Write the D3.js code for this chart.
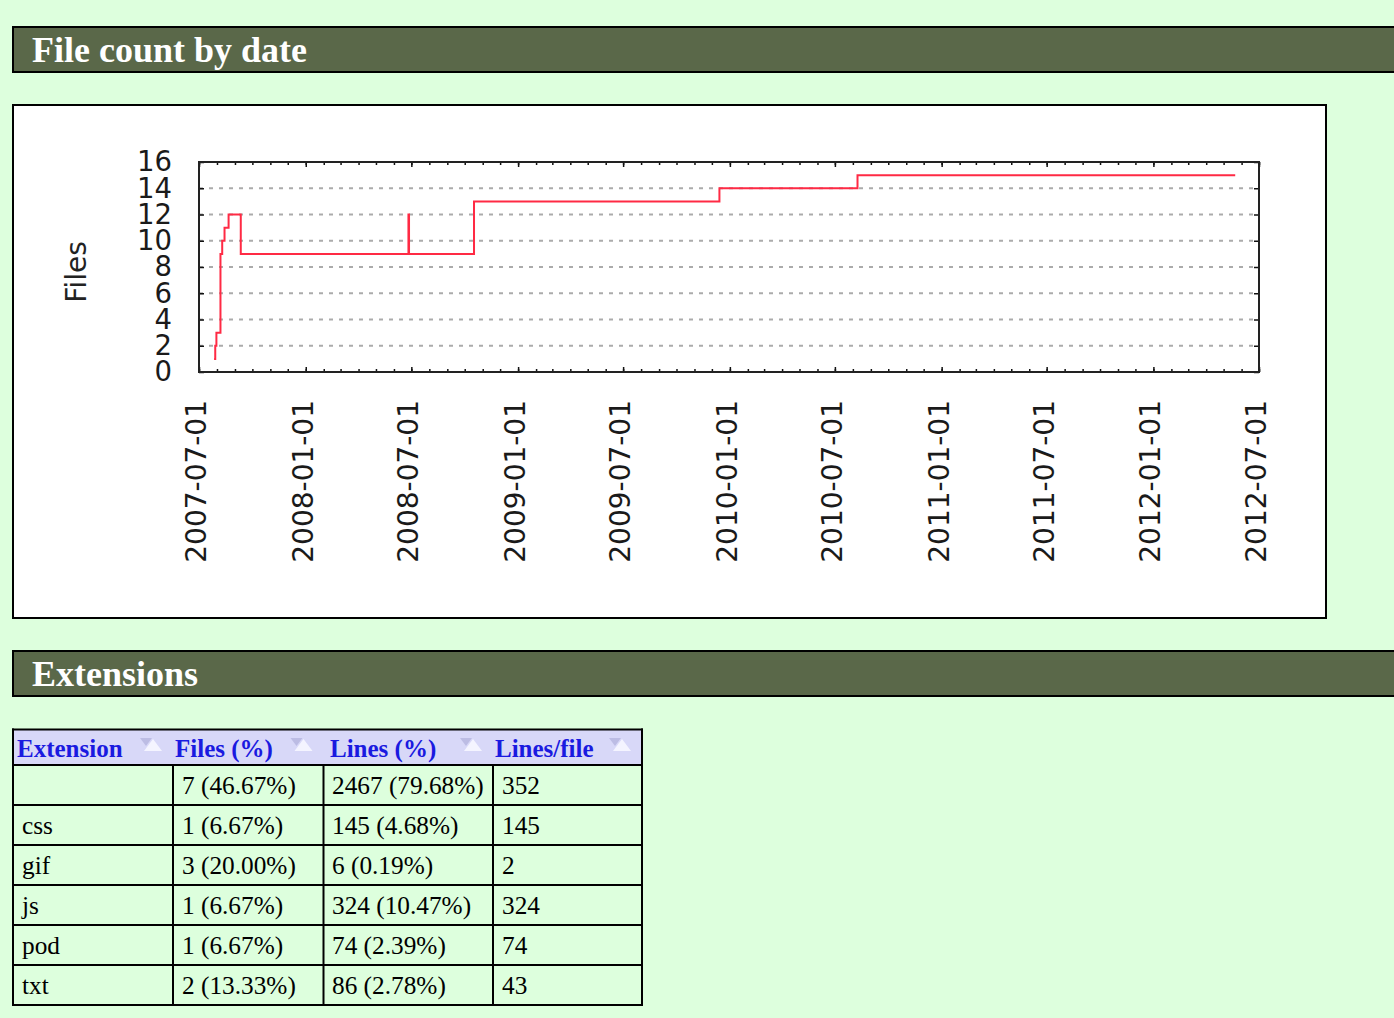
<!DOCTYPE html>
<html>
<head>
<meta charset="utf-8">
<script src="https://cdn.jsdelivr.net/npm/d3@7"></script>
<style>
  html, body { margin: 0; padding: 0; background: #ddffdd; overflow: hidden; }
  svg { display: block; }
</style>
</head>
<body>
<svg id="page" width="1394" height="1018"></svg>
<script>
// ---------- data ----------
const stepDates = ["2007-07-27","2007-07-29","2007-07-31","2007-08-07","2007-08-10","2007-08-14",
                   "2007-08-21","2007-09-11","2008-06-26","2008-06-27","2008-10-17","2009-12-14",
                   "2010-08-09","2012-05-21"];
const fileCounts = [1, 2, 3, 9, 10, 11, 12, 9, 12, 9, 13, 14, 15, 15];
const xTickLabels = ["2007-07-01","2008-01-01","2008-07-01","2009-01-01","2009-07-01","2010-01-01",
                     "2010-07-01","2011-01-01","2011-07-01","2012-01-01","2012-07-01"];
const yTickValues = [0, 2, 4, 6, 8, 10, 12, 14, 16];

const tableHeaders = ["Extension", "Files (%)", "Lines (%)", "Lines/file"];
const extensions = ["", "css", "gif", "js", "pod", "txt"];
const extFiles = [7, 1, 3, 1, 1, 2];
const extFilesPct = [46.67, 6.67, 20.00, 6.67, 6.67, 13.33];
const extLines = [2467, 145, 6, 324, 74, 86];
const extLinesPct = [79.68, 4.68, 0.19, 10.47, 2.39, 2.78];
const extLinesPerFile = [352, 145, 2, 324, 74, 43];

// ---------- page ----------
const svg = d3.select("#page");
const parse = d3.utcParse("%Y-%m-%d");

function header(y, label) {
  svg.append("rect").attr("x", 13).attr("y", y + 1).attr("width", 1400).attr("height", 45)
    .attr("fill", "#5a6849").attr("stroke", "#000").attr("stroke-width", 2);
  svg.append("text").attr("x", 32).attr("y", y + 36)
    .attr("font-family", "'Liberation Serif', 'Times New Roman', serif")
    .attr("font-weight", "bold").attr("font-size", 36).attr("fill", "#fff").text(label);
}
header(26, "File count by date");
header(650, "Extensions");

// chart box
svg.append("rect").attr("x", 13).attr("y", 105).attr("width", 1313).attr("height", 513)
  .attr("fill", "#fff").attr("stroke", "#000").attr("stroke-width", 2);

const L = 199, R = 1259, T = 162, B = 372;
const x = d3.scaleUtc().domain([parse("2007-07-01"), parse("2012-07-01")]).range([L, R]);
const y = d3.scaleLinear().domain([0, 16]).range([B, T]);

const chart = svg.append("g").attr("font-family", "'DejaVu Sans', sans-serif");

// grid
chart.append("g").selectAll("line").data(yTickValues.filter(v => v > 0 && v < 16)).join("line")
  .attr("x1", L).attr("x2", R).attr("y1", d => y(d)).attr("y2", d => y(d))
  .attr("stroke", "#ababab").attr("stroke-width", 2).attr("stroke-dasharray", "4,6");

const majorDates = xTickLabels.map(parse);
const minorDates = x.ticks(d3.utcMonth.every(1));

function styleAxis(g) {
  g.select(".domain").remove();
  g.selectAll("line").attr("stroke", "#111").attr("stroke-width", 1.5);
}

// minor x ticks (bottom/top)
chart.append("g").attr("transform", `translate(0,${B})`)
  .call(d3.axisBottom(x).tickValues(minorDates).tickSize(-3).tickFormat(""))
  .call(styleAxis);
chart.append("g").attr("transform", `translate(0,${T})`)
  .call(d3.axisTop(x).tickValues(minorDates).tickSize(-3).tickFormat(""))
  .call(styleAxis);

// major x ticks with labels
const xAxisG = chart.append("g").attr("transform", `translate(0,${B})`)
  .call(d3.axisBottom(x).tickValues(majorDates).tickSize(-5).tickFormat(d3.utcFormat("%Y-%m-%d")))
  .call(styleAxis);
xAxisG.selectAll("text")
  .attr("x", 0).attr("y", 0).attr("dy", null)
  .attr("text-anchor", "end")
  .attr("transform", "translate(6.5,28) rotate(-90)")
  .attr("font-size", 28).attr("fill", "#1a1a1a").attr("font-family", "'DejaVu Sans', sans-serif");
chart.append("g").attr("transform", `translate(0,${T})`)
  .call(d3.axisTop(x).tickValues(majorDates).tickSize(-5).tickFormat(""))
  .call(styleAxis);

// y axes
const yAxisG = chart.append("g").attr("transform", `translate(${L},0)`)
  .call(d3.axisLeft(y).tickValues(yTickValues).tickSize(-5).tickPadding(27))
  .call(styleAxis);
yAxisG.selectAll("text").attr("font-size", 27.5).attr("fill", "#1a1a1a")
  .attr("font-family", "'DejaVu Sans', sans-serif");
chart.append("g").attr("transform", `translate(${R},0)`)
  .call(d3.axisRight(y).tickValues(yTickValues).tickSize(-5).tickFormat(""))
  .call(styleAxis);

// frame
chart.append("rect").attr("x", L).attr("y", T).attr("width", R - L).attr("height", B - T)
  .attr("fill", "none").attr("stroke", "#222").attr("stroke-width", 2);

// y label
chart.append("text").attr("transform", "translate(86,272) rotate(-90)")
  .attr("text-anchor", "middle").attr("font-size", 28).attr("fill", "#222").text("Files");

// step line
const pts = stepDates.map((d, i) => [parse(d), fileCounts[i]]);
chart.append("path").datum(pts)
  .attr("d", d3.line().x(d => x(d[0])).y(d => y(d[1])).curve(d3.curveStepAfter))
  .attr("fill", "none").attr("stroke", "#ff2a44").attr("stroke-width", 2);

// ---------- table ----------
const colX = [13, 173, 323.5, 493, 642];
const tTop = 729.5, hBottom = 765, rowH = 40;
const nRows = extensions.length;
const tBottom = hBottom + rowH * nRows;
const tbl = svg.append("g");

tbl.append("rect").attr("x", 14).attr("y", 730).attr("width", 627).attr("height", 35).attr("fill", "#d8d8f8");

// header sort icons
const iconX = colX.slice(1).map(c => c - 22);
const icons = tbl.append("g").selectAll("g").data(iconX).join("g")
  .attr("transform", d => `translate(${d},745)`);
icons.append("path").attr("d", "M-11,-7 L1,-7 L-5,1 Z").attr("fill", "#bcbce4");
icons.append("path").attr("d", "M2,-6 L11,6 L-7,6 Z").attr("fill", "#f4f4ff");

const headerTextX = [17, 175, 330, 495];
tbl.append("g").selectAll("text").data(tableHeaders).join("text")
  .attr("x", (d, i) => headerTextX[i]).attr("y", 757)
  .attr("font-family", "'Liberation Serif', 'Times New Roman', serif")
  .attr("font-weight", "bold").attr("font-size", 25).attr("fill", "#1a1ae0")
  .text(d => d);

const rows = extensions.map((e, i) => [
  e,
  `${extFiles[i]} (${extFilesPct[i].toFixed(2)}%)`,
  `${extLines[i]} (${extLinesPct[i].toFixed(2)}%)`,
  `${extLinesPerFile[i]}`
]);
const cellX = [22, 182, 332, 502];
rows.forEach((r, i) => {
  tbl.append("g").selectAll("text").data(r).join("text")
    .attr("x", (d, j) => cellX[j]).attr("y", hBottom + rowH * i + 29)
    .attr("font-family", "'Liberation Serif', 'Times New Roman', serif")
    .attr("font-size", 25.3).attr("fill", "#000").text(d => d);
});

// grid lines of table
const hLines = d3.range(nRows + 1).map(i => hBottom + rowH * i);
tbl.append("g").selectAll("line").data(hLines).join("line")
  .attr("x1", 12).attr("x2", 643).attr("y1", d => d).attr("y2", d => d)
  .attr("stroke", "#000").attr("stroke-width", 2);
tbl.append("line").attr("x1", 12).attr("x2", 643).attr("y1", tTop).attr("y2", tTop)
  .attr("stroke", "#000").attr("stroke-width", 2);
tbl.append("g").selectAll("line").data(colX).join("line")
  .attr("x1", d => d).attr("x2", d => d)
  .attr("y1", (d, i) => (i === 0 || i === colX.length - 1) ? tTop - 1 : hBottom)
  .attr("y2", tBottom + 1)
  .attr("stroke", "#000").attr("stroke-width", 2);
</script>
</body>
</html>
